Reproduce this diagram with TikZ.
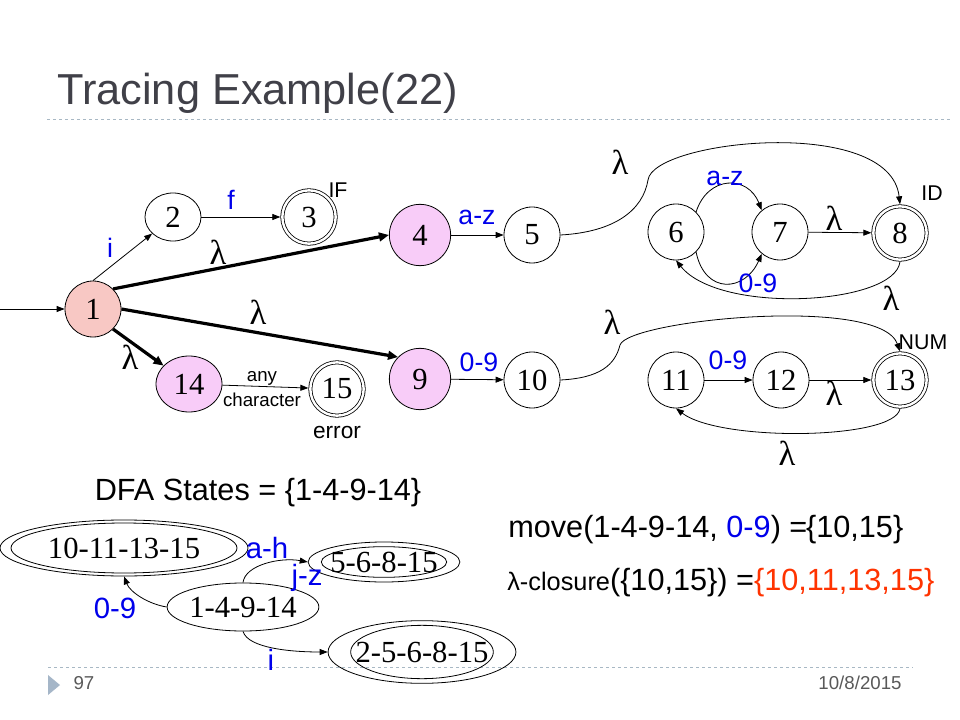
\documentclass[tikz,border=0pt]{standalone}
\usepackage{fontspec}
\setmainfont{Liberation Serif}
\setsansfont{Liberation Sans}
\usepackage{xcolor}
\usepackage{tikz}
\usetikzlibrary{arrows.meta, shapes.geometric}

\definecolor{salmon}{RGB}{248,200,196}
\definecolor{lilac}{RGB}{248,204,248}
\definecolor{titlegray}{RGB}{64,64,72}
\definecolor{rulegray}{RGB}{168,184,196}
\definecolor{markgray}{RGB}{165,182,200}
\definecolor{footgray}{RGB}{89,89,89}
\definecolor{labelblue}{RGB}{0,0,235}
\definecolor{redorange}{RGB}{255,51,0}

\newcommand{\numsize}{\fontsize{23}{23}\selectfont}

\tikzset{
  nfa/.style={circle, draw, line width=0.6pt, minimum size=42pt, inner sep=0pt, font=\numsize},
  nfaacc/.style={nfa, double, double distance=1.8pt, minimum size=40pt, outer sep=1.5pt},
  dfa/.style={ellipse, draw, line width=0.6pt, inner sep=0pt, font=\numsize},
  tran/.style={draw, line width=0.6pt, -{Triangle[length=6pt,width=4.5pt]}},
  lamtran/.style={draw, line width=2.4pt, -{Triangle[length=7.5pt,width=6.5pt]}},
  lbl/.style={inner sep=0pt, text=labelblue, font=\sffamily\fontsize{20}{20}\selectfont},
  biglbl/.style={lbl, font=\sffamily\fontsize{22}{22}\selectfont},
  lam/.style={inner sep=0pt, font=\fontsize{26}{26}\selectfont},
  tag/.style={inner sep=0pt, font=\sffamily\fontsize{16}{16}\selectfont},
  foot/.style={inner sep=0pt, text=footgray, font=\sffamily\fontsize{14}{14}\selectfont},
  rule/.style={rulegray, line width=0.75pt, dash pattern=on 2.5pt off 2pt},
}

\begin{document}
\begin{tikzpicture}[x=0.75pt,y=-0.75pt]
  \useasboundingbox (0,0) rectangle (960,720);
  \fill[white] (0,0) rectangle (960,720);

  % slide frame
  \node[anchor=base west, inner sep=0pt, text=titlegray, font=\sffamily\fontsize{32.5}{32.5}\selectfont] (title) at (57,105) {Tracing Example(22)};
  \draw[rule] (47,120) -- (950,120);
  \draw[rule] (48,667) -- (913,667);
  \fill[markgray] (48,675) -- (60,685) -- (48,695) -- cycle;
  \node[foot] (page) at (84,683) {97};
  \node[foot] (date) at (860,683) {10/8/2015};

  % NFA states
  \node[nfa, fill=salmon] (n1) at (93,309) {1};
  \node[nfa, ellipse, minimum width=42pt, minimum height=36pt] (n2) at (173,217) {2};
  \node[nfaacc] (n3) at (309,217) {3};
  \node[nfa, fill=lilac, minimum size=46pt] (n4) at (420,235) {4};
  \node[nfa] (n5) at (532,235) {5};
  \node[nfa] (n6) at (676,232) {6};
  \node[nfa] (n7) at (780,232) {7};
  \node[nfaacc] (n8) at (900,233) {8};
  \node[nfa, fill=lilac, minimum size=46pt] (n9) at (420,379) {9};
  \node[nfa] (n10) at (532,380) {10};
  \node[nfa] (n11) at (676,380) {11};
  \node[nfa] (n12) at (781,380) {12};
  \node[nfaacc] (n13) at (900,380) {13};
  \node[nfa, ellipse, fill=lilac, minimum width=49.5pt, minimum height=42pt] (n14) at (189,384) {14};
  \node[nfaacc] (n15) at (337,389) {15};
  \coordinate (start) at (0,309);

  % NFA transitions
  \draw[tran] (start) -- (n1);
  \draw[tran] (n1.north) -- (n2);
  \draw[tran] (n2) -- (n3);
  \draw[lamtran] (n1.45) -- (n4.west);
  \draw[lamtran] (n1.east) -- (n9.135);
  \draw[lamtran] (n1.-45) -- (n14);
  \draw[tran] (n14) -- (n15);
  \draw[tran] (n4) -- (n5);
  \draw[tran] (n9) -- (n10);
  \draw[tran] (n5.east) .. controls (615,232) and (643,210) .. (648,180)
    .. controls (653,140) and (890,115) .. (n8.north);
  \draw[tran] (n6.45) .. controls (708,175) and (748,175) .. (n7.130);
  \draw[tran] (n6.-45) .. controls (705,295) and (745,292) .. (n7.-130);
  \draw[tran] (n7) -- (n8);
  \draw[tran] (n8.south) .. controls (895,305) and (720,315) .. (n6.south);
  \draw[tran] (n10.east) .. controls (600,378) and (615,365) .. (620,345)
    .. controls (628,320) and (880,295) .. (n13.north);
  \draw[tran] (n11) -- (n12);
  \draw[tran] (n12) -- (n13);
  \draw[tran] (n13.south) .. controls (895,440) and (720,442) .. (n11.south);

  % NFA labels
  \node[lbl] (li) at (110,248) {i};
  \node[lbl] (lf) at (231,200) {f};
  \node[tag] (tif) at (338,190) {IF};
  \node[lam] (l14) at (218,252) {λ};
  \node[lam] (l19) at (258,312) {λ};
  \node[lam] (l114) at (130,357) {λ};
  \node[inner sep=0pt, font=\sffamily\fontsize{14}{14}\selectfont] (lany) at (262,378) {any};
  \node[inner sep=0pt, font=\sffamily\fontsize{14}{14}\selectfont] (lchar) at (262,400) {character};
  \node[inner sep=0pt, font=\sffamily\fontsize{17}{17}\selectfont] (terr) at (337,433) {error};
  \node[lbl] (l45) at (477,217) {a-z};
  \node[lbl] (l910) at (479,362) {0-9};
  \node[lam] (l58) at (620,162) {λ};
  \node[lam] (l1013) at (612,322) {λ};
  \node[lbl] (l67a) at (725,178) {a-z};
  \node[lbl] (l67b) at (758,283) {0-9};
  \node[lam] (l78) at (834,218) {λ};
  \node[lam] (l86) at (891,298) {λ};
  \node[tag] (tid) at (932,193) {ID};
  \node[lbl] (l1112) at (728,360) {0-9};
  \node[lam] (l1213) at (834,393) {λ};
  \node[lam] (l1311) at (787,453) {λ};
  \node[tag] (tnum) at (923,342) {NUM};

  % DFA part
  \node[inner sep=0pt, font=\sffamily\fontsize{23}{23}\selectfont] (dstates) at (258,493) {DFA States = \{1-4-9-14\}};
  \node[dfa, minimum width=186pt, minimum height=42pt] (e1) at (124,548) {10-11-13-15};
  \draw[line width=0.6pt] (e1.center) ellipse [x radius=84.75pt, y radius=18.75pt];
  \node[dfa, minimum width=101pt, minimum height=30pt] (e2) at (384,562) {5-6-8-15};
  \draw[line width=0.6pt] (e2.center) ellipse [x radius=47pt, y radius=11.5pt];
  \node[dfa, minimum width=102pt, minimum height=36pt] (e3) at (243,607) {1-4-9-14};
  \node[dfa, minimum width=118pt, minimum height=47pt] (e4) at (422,652) {2-5-6-8-15};
  \draw[line width=0.6pt] (e4.center) ellipse [x radius=53.5pt, y radius=20pt];

  \draw[tran] (e3.west) .. controls (148,604) and (130,592) .. (e1.south);
  \draw[tran] (e3.north) .. controls (245,565) and (280,557) .. (e2.west);
  \draw[tran] (e3.south) .. controls (248,648) and (290,652) .. (e4.west);
  \node[biglbl] (lah) at (267,548) {a-h};
  \node[biglbl] (ljz) at (307,578) {j-z};
  \node[biglbl] (l09) at (115,608) {0-9};
  \node[biglbl] (ldi) at (271,660) {i};

  % move and closure
  \node[anchor=west, inner sep=0pt, font=\sffamily\fontsize{23}{23}\selectfont] (move) at (508,530)
    {move(1-4-9-14, \textcolor{labelblue}{0-9}) =\kern-1pt\{10,15\}};
  \node[anchor=west, inner sep=0pt, font=\sffamily\fontsize{23}{23}\selectfont] (closure) at (507,583)
    {{\fontsize{19}{19}\selectfont λ-closure}(\{10,15\}) =\textcolor{redorange}{\{10,11,13,15\}}};
\end{tikzpicture}
\end{document}
